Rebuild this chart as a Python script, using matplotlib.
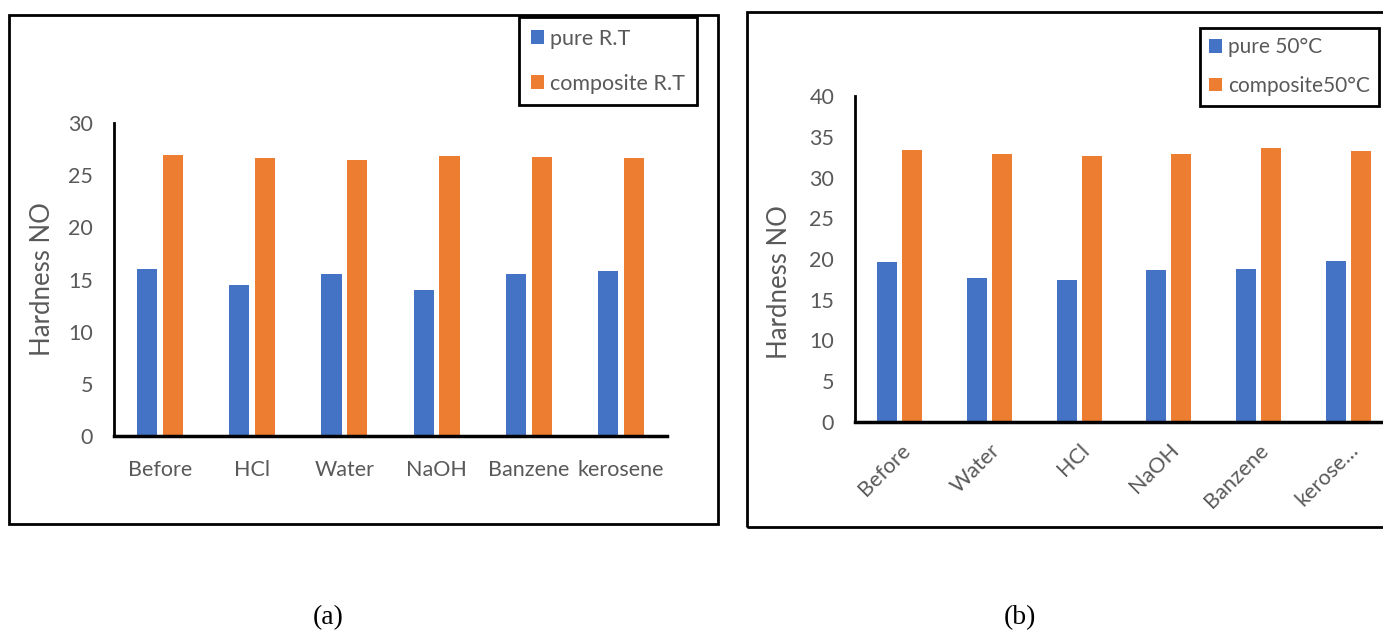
import numpy as np
import matplotlib.pyplot as plt
from matplotlib.patches import Rectangle

# panel (a): room temperature
cats_rt = ["Before", "HCl", "Water", "NaOH", "Banzene", "kerosene"]
pure_rt = [16.0, 14.5, 15.5, 14.0, 15.5, 15.8]
comp_rt = [26.9, 26.6, 26.5, 26.8, 26.7, 26.6]

# panel (b): 50 C
cats_50 = ["Before", "Water", "HCl", "NaOH", "Banzene", "kerose…"]
pure_50 = [19.6, 17.7, 17.4, 18.7, 18.8, 19.7]
comp_50 = [33.4, 32.9, 32.6, 32.9, 33.6, 33.3]

BLUE = "#4472C4"
ORANGE = "#ED7D31"
GRAY = "#595959"

plt.rcParams["font.family"] = ["Lato", "DejaVu Sans"]

W, H = 1383, 631
fig = plt.figure(figsize=(W / 100, H / 100), dpi=100)


def fbox(x0, y0, x1, y1):
    # pixel box -> figure fraction [left, bottom, width, height]
    return [x0 / W, 1 - y1 / H, (x1 - x0) / W, (y1 - y0) / H]


def draw_panel(ax, cats, pure, comp, labels, ymax, rot, bw, off):
    x = np.arange(len(cats))
    ax.bar(x - off, pure, bw, color=BLUE, label=labels[0], zorder=2)
    ax.bar(x + off, comp, bw, color=ORANGE, label=labels[1], zorder=2)
    ax.set_xlim(-0.5, len(cats) - 0.5)
    ax.set_ylim(0, ymax)
    ax.set_yticks(np.arange(0, ymax + 1, 5))
    ax.set_xticks(x)
    if rot:
        ax.set_xticklabels(cats, rotation=45, ha="right", va="top",
                           rotation_mode="anchor")
    else:
        ax.set_xticklabels(cats)
    for s in ["top", "right"]:
        ax.spines[s].set_visible(False)
    ax.spines["left"].set_linewidth(2)
    ax.spines["bottom"].set_linewidth(2.5)
    ax.tick_params(length=0, labelsize=15.5, labelcolor=GRAY)
    ax.tick_params(axis="y", pad=15)
    ax.tick_params(axis="x", pad=17 if not rot else 13)
    ax.set_ylabel("Hardness NO", fontsize=18.5, color=GRAY)


# outer frames
for box in [(9, 15, 718, 524), (747, 12, 1392, 527)]:
    fig.patches.append(Rectangle((box[0] / W, 1 - box[3] / H),
                                 (box[2] - box[0]) / W, (box[3] - box[1]) / H,
                                 transform=fig.transFigure, fill=False,
                                 edgecolor="black", linewidth=2, zorder=0))

axA = fig.add_axes(fbox(114, 123, 667, 436))
draw_panel(axA, cats_rt, pure_rt, comp_rt, ["pure R.T", "composite R.T"],
           30, False, 0.22, 0.14)
axA.yaxis.set_label_coords(-0.107, 0.5)

axB = fig.add_axes(fbox(855, 96, 1393, 422))
draw_panel(axB, cats_50, pure_50, comp_50, ["pure 50°C", "composite50°C"],
           40, True, 0.225, 0.14)
axB.yaxis.set_label_coords(-0.117, 0.43)

legA = axA.legend(loc="upper right", bbox_to_anchor=(697 / W, 1 - 17 / H),
                  bbox_transform=fig.transFigure, fontsize=15.5,
                  handlelength=0.6, handleheight=0.6, handletextpad=0.3,
                  labelspacing=1.15, borderpad=0.55, borderaxespad=0,
                  fancybox=False, framealpha=1, edgecolor="black",
                  labelcolor=GRAY)
legA.get_frame().set_linewidth(2)

legB = axB.legend(loc="upper left", bbox_to_anchor=(1200 / W, 1 - 28 / H),
                  bbox_transform=fig.transFigure, fontsize=15,
                  handlelength=0.6, handleheight=0.6, handletextpad=0.3,
                  labelspacing=0.9, borderpad=0.45, borderaxespad=0,
                  fancybox=False, framealpha=1, edgecolor="black",
                  labelcolor=GRAY)
legB.get_frame().set_linewidth(2)

fig.text(328 / W, 1 - 618 / H, "(a)", ha="center", va="center",
         fontsize=20, family="Liberation Serif")
fig.text(1020 / W, 1 - 618 / H, "(b)", ha="center", va="center",
         fontsize=20, family="Liberation Serif")

fig.savefig("out.png", dpi=100, facecolor="white")
